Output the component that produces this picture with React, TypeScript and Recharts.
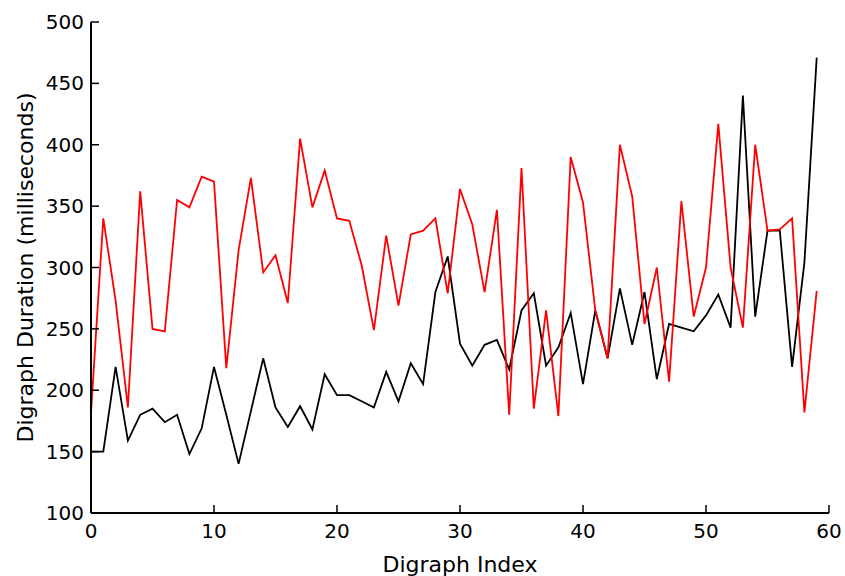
import React from 'react';
import { LineChart, Line, XAxis, YAxis } from 'recharts';

const indices: number[] = Array.from({ length: 60 }, (_, i) => i);

const redSeries: number[] = [
  182, 340, 273, 186, 362, 250, 248, 355, 349, 374,
  370, 218, 314, 373, 296, 310, 271, 405, 349, 379,
  340, 338, 302, 249, 326, 269, 327, 330, 340, 279,
  364, 335, 280, 347, 180, 381, 185, 265, 179, 390,
  353, 265, 226, 400, 358, 254, 300, 207, 354, 260,
  300, 417, 300, 251, 400, 330, 331, 340, 182, 281,
];

const blackSeries: number[] = [
  150, 150, 219, 159, 180, 185, 174, 180, 148, 169,
  219, 180, 140, 183, 226, 186, 170, 187, 168, 213,
  196, 196, 191, 186, 215, 191, 222, 205, 280, 309,
  238, 220, 237, 241, 217, 265, 279, 220, 235, 263,
  205, 265, 226, 283, 237, 280, 209, 254, 251, 248,
  261, 278, 251, 440, 260, 330, 330, 219, 304, 471,
];

const xTicks: number[] = [0, 10, 20, 30, 40, 50, 60];
const yTicks: number[] = [100, 150, 200, 250, 300, 350, 400, 450, 500];

const data = indices.map((i) => ({ i, red: redSeries[i], black: blackSeries[i] }));

const FONT = '"DejaVu Sans", sans-serif';
const TICK_LEN = 8;

const LeftTick = (props: any) => {
  const { x, y, payload } = props;
  return (
    <g>
      <line x1={x} y1={y} x2={x + TICK_LEN} y2={y} stroke="#000" strokeWidth={1.5} />
      <text x={x - 7} y={y} dy={7} textAnchor="end" fontSize={20} fontFamily={FONT} fill="#000">
        {payload.value}
      </text>
    </g>
  );
};

const RightTick = (props: any) => {
  const { x, y } = props;
  return <line x1={x} y1={y} x2={x - TICK_LEN} y2={y} stroke="#000" strokeWidth={1.5} />;
};

const BottomTick = (props: any) => {
  const { x, y, payload } = props;
  return (
    <g>
      <line x1={x} y1={y} x2={x} y2={y - TICK_LEN} stroke="#000" strokeWidth={1.5} />
      <text x={x} y={y + 25} textAnchor="middle" fontSize={20} fontFamily={FONT} fill="#000">
        {payload.value}
      </text>
    </g>
  );
};

const TopTick = (props: any) => {
  const { x, y } = props;
  return <line x1={x} y1={y} x2={x} y2={y + TICK_LEN} stroke="#000" strokeWidth={1.5} />;
};

const axisLine = { stroke: '#000', strokeWidth: 2 };

export default function App() {
  return (
    <div style={{ position: 'absolute', left: 0, top: 0, background: '#fff' }}>
      <LineChart
        width={845}
        height={576}
        data={data}
        margin={{ top: 22, right: 16, bottom: 0, left: 0 }}
        style={{ fontFamily: FONT }}
      >
        <XAxis
          xAxisId="bottom"
          dataKey="i"
          type="number"
          domain={[0, 60]}
          ticks={xTicks}
          interval={0}
          height={63}
          tickSize={0}
          tickMargin={0}
          tickLine={false}
          axisLine={axisLine}
          tick={<BottomTick />}
          label={{ value: 'Digraph Index', position: 'insideBottom', offset: 4, fontSize: 22, fill: '#000', fontFamily: FONT }}
        />
        <XAxis
          xAxisId="top"
          orientation="top"
          dataKey="i"
          type="number"
          domain={[0, 60]}
          ticks={xTicks}
          interval={0}
          height={0}
          tickSize={0}
          tickMargin={0}
          tickLine={false}
          axisLine={axisLine}
          tick={<TopTick />}
        />
        <YAxis
          yAxisId="left"
          type="number"
          domain={[100, 500]}
          ticks={yTicks}
          interval={0}
          width={91}
          tickSize={0}
          tickMargin={0}
          tickLine={false}
          axisLine={axisLine}
          tick={<LeftTick />}
          label={{
            value: 'Digraph Duration (milliseconds)',
            angle: -90,
            position: 'insideLeft',
            offset: 25,
            fontSize: 22,
            fill: '#000',
            fontFamily: FONT,
            style: { textAnchor: 'middle' },
          }}
        />
        <YAxis
          yAxisId="right"
          orientation="right"
          type="number"
          domain={[100, 500]}
          ticks={yTicks}
          interval={0}
          width={0}
          tickSize={0}
          tickMargin={0}
          tickLine={false}
          axisLine={axisLine}
          tick={<RightTick />}
        />
        <Line
          xAxisId="bottom"
          yAxisId="left"
          type="linear"
          dataKey="black"
          stroke="#000"
          strokeWidth={1.8}
          dot={false}
          activeDot={false}
          isAnimationActive={false}
        />
        <Line
          xAxisId="bottom"
          yAxisId="left"
          type="linear"
          dataKey="red"
          stroke="#ff0000"
          strokeWidth={1.8}
          dot={false}
          activeDot={false}
          isAnimationActive={false}
        />
      </LineChart>
    </div>
  );
}
